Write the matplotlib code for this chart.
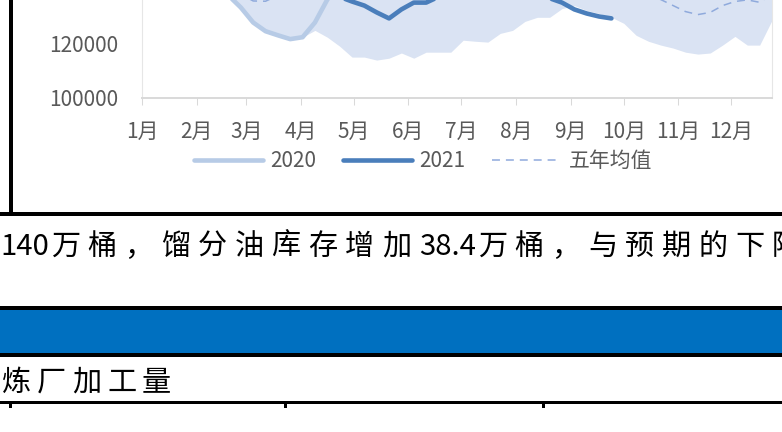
import re
import matplotlib
matplotlib.use('Agg')
import matplotlib.pyplot as plt
from matplotlib.patches import Rectangle
import pandas as pd

plt.rcParams['font.family'] = ['Noto Sans CJK SC', 'DejaVu Sans']

# weekly US distillate stocks (thousand barrels), one point per week
weeks = pd.date_range('2021-01-01', periods=52, freq='7D')
stock_2020 = [139000, 141500, 144500, 145500, 144000, 142000, 140500, 137500, 133100, 127600,
              124400, 122900, 121500, 122200, 127600, 136000, 141000, 146000, 150500, 154000,
              158000, 164000, 168500, 170500, 173000, 175000, 176000, 177000, 178500, 178000,
              178500, 179500, 178000, 177500, 176500, 175500, 174000, 172000, 168000, 163000,
              160000, 158000, 155500, 153000, 149000, 146500, 146000, 147000, 150000, 152000,
              154000, 157000]
stock_2021 = [161000, 163000, 164000, 163500, 162000, 160500, 159000, 157500, 151000, 147000,
              145500, 145000, 145500, 144000, 142500, 141000, 137000, 135300, 133800, 131300,
              129100, 132400, 134900, 134900, 137000, 138000, 139000, 140000, 139000, 138500,
              138500, 138000, 137500, 136500, 134900, 132400, 130900, 129800, 129100]
range_min = [138500, 139000, 138000, 137000, 137500, 136500, 137000, 137500, 133100, 127600,
             124400, 122900, 121500, 122200, 124700, 122200, 118900, 114900, 114900, 113800,
             114500, 116400, 114500, 116700, 116700, 116700, 121100, 120700, 120400, 123600,
             124700, 128000, 129500, 129500, 132700, 133800, 132000, 130900, 129500, 127300,
             122900, 120700, 119300, 118200, 116700, 116000, 116400, 119300, 122500, 119300,
             119300, 128400]
range_max = [166000, 168000, 167000, 164000, 162000, 161000, 161500, 160000, 160000, 161000,
             160000, 158000, 157000, 156000, 155500, 156000, 158000, 160000, 161000, 163000,
             166000, 170000, 172000, 174000, 175000, 176000, 177000, 178000, 179000, 179500,
             180000, 180000, 180000, 179500, 179000, 178000, 177000, 176000, 175000, 172000,
             170000, 167000, 165000, 163000, 161000, 160000, 159000, 158000, 157000, 156000,
             155000, 157000]
avg_5y = [150000, 151500, 152000, 151500, 150000, 148500, 146500, 142000, 138000, 135500,
          135400, 137500, 138500, 139500, 140500, 141500, 142500, 144000, 145000, 146000,
          147000, 148000, 149500, 150500, 151000, 151500, 152000, 152500, 153000, 153500,
          154000, 154000, 153500, 153000, 152000, 150500, 149000, 147000, 145000, 143000,
          140500, 138000, 136000, 133800, 131600, 130500, 131300, 133800, 135300, 135900,
          135000, 138000]
month_labels = [f'{m}月' for m in range(1, 13)]
y_ticks = [100000, 120000]

note_text = '140万桶，馏分油库存增加38.4万桶，与预期的下降'
section_title = '炼厂加工量'

W, H = 782, 432
fig = plt.figure(figsize=(W / 100, H / 100), dpi=100)


def fx(px):
    return px / W


def fy(py):
    return 1 - py / H


ax = fig.add_axes([fx(142), fy(97.7), fx(772) - fx(142), 272.5 / H])
ax.fill_between(weeks, range_min, range_max, color='#DAE3F3', lw=0)
ax.plot(weeks, stock_2020, color='#B7CBE6', lw=3.3, solid_capstyle='round',
        solid_joinstyle='round', label='2020')
ax.plot(weeks[:len(stock_2021)], stock_2021, color='#4A7EBB', lw=3.3,
        solid_capstyle='round', solid_joinstyle='round', label='2021')
ax.plot(weeks, avg_5y, color='#8FAADC', lw=1.1, ls=(0, (5.2, 3.9)), label='五年均值')

ax.set_xlim(weeks[0], weeks[-1])
ax.set_ylim(100000, 200000)
ax.set_xticks(pd.date_range('2021-01-01', periods=12, freq='MS'))
ax.set_xticklabels(month_labels)
ax.set_yticks(y_ticks)
ax.tick_params(axis='y', length=0, pad=17, labelsize=15, labelcolor='#595959')
ax.tick_params(axis='x', length=5, width=0.75, color='#D9D9D9', pad=12,
               labelsize=15, labelcolor='#595959')
ax.spines['top'].set_visible(False)
ax.spines['bottom'].set_color('#D9D9D9')
ax.spines['bottom'].set_linewidth(1.4)
for s in ['left', 'right']:
    ax.spines[s].set_color('#E6E6E6')
    ax.spines[s].set_linewidth(0.8)

fig.legend(loc='center', bbox_to_anchor=(fx(423), fy(161)), ncol=3, frameon=False,
           fontsize=15, handlelength=3.3, handletextpad=0.35, columnspacing=1.3,
           labelcolor='#595959')

# page furniture around the chart
def hbar(y0, y1, color='black'):
    fig.add_artist(Rectangle((0, fy(y1)), 1, fy(y0) - fy(y1), transform=fig.transFigure,
                             color=color, lw=0))


fig.add_artist(Rectangle((fx(8.5), fy(214)), fx(4), fy(0) - fy(214),
                         transform=fig.transFigure, color='black', lw=0))
hbar(212, 216)
hbar(306, 310)
hbar(310, 353, '#0070C0')
hbar(353, 357)
hbar(401, 404)
for xm in [10, 285, 543]:
    fig.add_artist(Rectangle((fx(xm - 1), fy(408)), fx(2.5), fy(404) - fy(408),
                             transform=fig.transFigure, color='black', lw=0))

renderer = fig.canvas.get_renderer()


def spaced_text(s, x0, y, size, cjk_adv, gap=2):
    # letter-spaced line: CJK chars on a fixed pitch, ascii runs kept together
    x = x0
    for tok in re.findall(r'[0-9.]+|.', s):
        t = fig.text(fx(x), fy(y), tok, fontsize=size, va='center', ha='left', color='black')
        if tok[0].isascii():
            x += t.get_window_extent(renderer).width + gap
        else:
            x += cjk_adv


spaced_text(note_text, 0, 247, 21, 36.8)
spaced_text(section_title, 2, 383, 21, 35)

fig.savefig('out.png', dpi=100)
